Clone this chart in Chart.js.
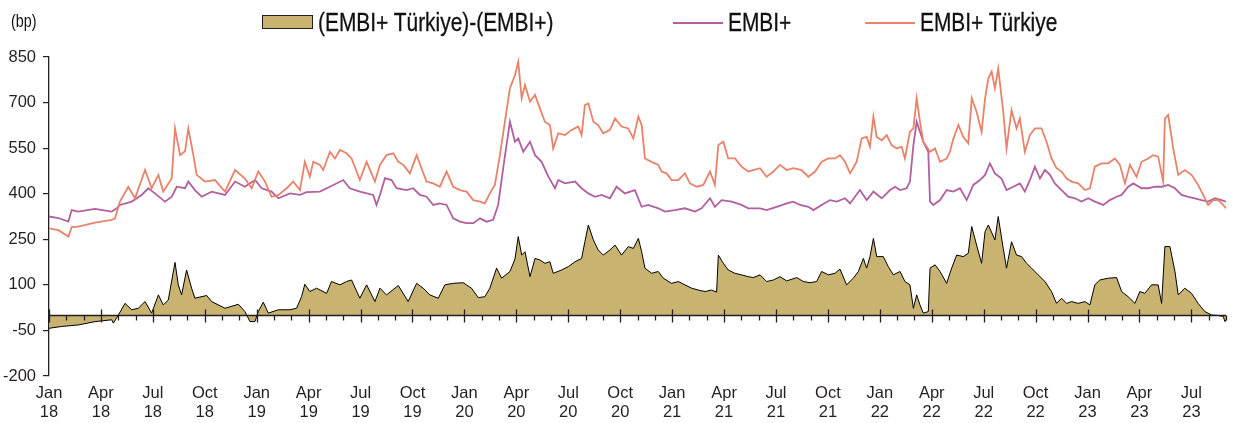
<!DOCTYPE html>
<html>
<head>
<meta charset="utf-8">
<script src="https://cdn.jsdelivr.net/npm/chart.js@4.4.1/dist/chart.umd.min.js"></script>
<style>
  body { margin: 0; background: #fff; }
  #wrap { position: relative; width: 1236px; height: 423px; font-family: 'Liberation Sans', Arial, sans-serif; color: #111; }
  #chart { position: absolute; left: 0; top: 0; }
  .lg { position: absolute; font-size: 25.5px; line-height: 25px; top: 10px; white-space: nowrap; transform: scaleX(0.82); transform-origin: 0 0; -webkit-text-stroke: 0.3px #111; }
  .sw { position: absolute; }
</style>
</head>
<body>
<div id="wrap">
  <canvas id="chart" width="1236" height="423"></canvas>
  <div class="lg" style="left:11px;top:13px;font-size:17.5px;line-height:17px;-webkit-text-stroke:0;">(bp)</div>
  <div class="sw" style="left:262px;top:15px;width:49px;height:12px;background:#c9b370;border:1.5px solid #231f20;"></div>
  <div class="lg" style="left:318px;">(EMBI+ Türkiye)-(EMBI+)</div>
  <div class="sw" style="left:673px;top:22px;width:50px;height:2px;background:#b35f9f;"></div>
  <div class="lg" style="left:728px;">EMBI+</div>
  <div class="sw" style="left:865px;top:22px;width:50px;height:2px;background:#e8836a;"></div>
  <div class="lg" style="left:920px;">EMBI+ Türkiye</div>
</div>
<script>
// x values are months counted from Jan 2018 (0 = Jan 18)
const turkiyeMonths = [0, 0.54, 1.12, 1.31, 1.69, 2.66, 3.62, 3.81, 4.1, 4.58, 4.97, 5.55, 5.93, 6.32, 6.6, 7.09, 7.28, 7.57, 7.86, 8.05, 8.34, 8.53, 9.01, 9.59, 10.17, 10.75, 11.32, 11.71, 12.09, 12.48, 12.86, 13.25,
  13.73, 14.11, 14.5, 14.78, 15.07, 15.27, 15.65, 15.84, 16.23, 16.52, 16.81, 17.19, 17.48, 17.96, 18.35, 18.83, 19.12, 19.5, 19.89, 20.18, 20.47, 20.85, 21.24, 21.52, 21.81, 22.2, 22.58, 22.97, 23.35, 23.74, 24.12, 24.51, 24.9, 25.18, 25.47, 25.76, 26.05, 26.34, 26.63, 26.92, 27.11,
  27.31, 27.5, 27.79, 28.08, 28.36, 28.65, 28.94, 29.13, 29.42, 29.81, 30.19, 30.58, 30.77, 30.96, 31.16, 31.45, 31.73, 32.02, 32.41, 32.7, 33.08, 33.47, 33.76, 34.05, 34.24, 34.43, 34.82, 35.2, 35.39, 35.68, 35.97, 36.36, 36.74, 37.03, 37.41, 37.8, 38.19, 38.47, 38.67, 38.96, 39.24, 39.63, 40.01, 40.4, 40.69,
  41.08, 41.46, 41.85, 42.23, 42.62, 43.0, 43.48, 43.87, 44.26, 44.64, 45.03, 45.41, 45.7, 45.99, 46.28, 46.66, 46.95, 47.24, 47.43, 47.63, 47.82, 48.11, 48.4, 48.68, 48.97, 49.26, 49.45, 49.74, 49.94, 50.13, 50.32, 50.51, 50.9, 51.19, 51.48, 51.86, 52.05, 52.25, 52.54, 52.82, 53.11, 53.31, 53.59, 53.88, 54.08, 54.27,
  54.46, 54.65, 54.84, 55.13, 55.32, 55.61, 55.9, 56.09, 56.38, 56.67, 56.96, 57.34, 57.63, 57.92, 58.21, 58.5, 58.79, 59.08, 59.46, 59.85, 60.14, 60.42, 60.81, 61.2, 61.58, 61.87, 62.16, 62.45, 62.83, 63.12, 63.51, 63.79, 64.08, 64.37, 64.47, 64.66, 64.95, 65.24, 65.62, 66.01, 66.39, 66.68, 66.97, 67.26, 67.55, 67.84, 68.0];
const turkiyeValues = [286, 280, 259, 290, 292, 305, 314, 318, 374, 423, 385, 478, 418, 462, 407, 450, 615, 527, 540, 615, 527, 462, 440, 445, 407, 478, 450, 418, 473, 440, 390, 395,
  418, 440, 412, 505, 456, 505, 495, 478, 538, 516, 544, 533, 516, 445, 505, 440, 495, 527, 533, 505, 495, 467, 527, 484, 440, 434, 423, 473, 423, 412, 407, 379, 374, 368, 401, 429, 527, 637, 747, 790, 834,
  714, 758, 703, 725, 681, 637, 626, 549, 599, 593, 610, 621, 593, 692, 697, 637, 626, 599, 610, 648, 621, 615, 582, 654, 626, 516, 505, 495, 473, 467, 445, 445, 467, 434, 423, 429, 473, 429, 560, 571, 516, 516, 489, 473, 478,
  484, 456, 473, 495, 478, 484, 478, 456, 473, 505, 516, 516, 527, 505, 467, 505, 582, 587, 555, 654, 587, 576, 593, 560, 549, 555, 516, 604, 615, 714, 637, 571, 538, 549, 505, 516, 538, 582, 626, 587, 566, 714, 670, 604, 714, 780,
  802, 747, 812, 670, 549, 675, 615, 648, 538, 593, 615, 615, 571, 516, 484, 473, 450, 440, 434, 412, 418, 489, 500, 500, 516, 495, 434, 495, 456, 505, 516, 527, 522, 440, 648, 659, 549, 462, 478, 462, 429, 396, 363, 379, 379, 363, 352];

const embiMonths = [0, 0.54, 1.12, 1.31, 1.69, 2.66, 3.62, 3.91, 4.1, 4.78, 5.35, 5.74, 6.12, 6.7, 7.09, 7.38, 7.86, 8.05, 8.43, 8.82, 9.4, 10.17, 10.75, 11.32, 11.9, 12.29, 12.86, 13.25,
  13.92, 14.5, 14.88, 15.65, 16.23, 17.0, 17.38, 17.96, 18.73, 18.92, 19.12, 19.41, 19.79, 20.08, 20.66, 21.04, 21.43, 21.81, 22.2, 22.58, 22.97, 23.35, 23.74, 24.12, 24.51, 24.9, 25.28, 25.66, 25.95, 26.24, 26.63,
  26.92, 27.11, 27.4, 27.79, 28.08, 28.46, 28.85, 29.23, 29.42, 29.81, 30.39, 30.77, 31.16, 31.54, 31.93, 32.41, 32.79, 33.27, 33.85, 34.24, 34.62, 35.2, 35.59, 36.16, 36.74, 37.32, 37.7, 38.19, 38.47, 38.86, 39.44, 40.01, 40.4,
  41.08, 41.46, 42.04, 42.62, 43.0, 43.39, 43.87, 44.16, 44.64, 45.12, 45.51, 45.99, 46.28, 46.85, 47.24, 47.63, 48.11, 48.59, 48.88, 49.17, 49.55, 49.74, 49.94, 50.13, 50.32, 50.51, 50.8, 50.9, 51.09, 51.48, 51.86, 52.25, 52.63, 53.02, 53.4, 53.79, 54.08,
  54.36, 54.65, 55.03, 55.32, 55.71, 56.09, 56.38, 56.67, 56.96, 57.25, 57.54, 57.83, 58.11, 58.5, 58.88, 59.27, 59.65, 60.04, 60.42, 60.91, 61.29, 61.68, 61.97, 62.35, 62.64, 63.12, 63.51, 63.89, 64.28, 64.66, 65.05, 65.43, 65.82, 66.2, 66.59, 66.97, 67.36, 67.74, 68.0];
const embiValues = [325, 320, 308, 346, 341, 350, 341, 352, 363, 374, 396, 418, 401, 374, 390, 423, 418, 440, 412, 390, 407, 396, 440, 423, 445, 418, 407, 385,
  401, 396, 405, 407, 423, 445, 418, 407, 396, 363, 396, 451, 445, 418, 412, 418, 396, 390, 363, 368, 363, 319, 308, 303, 303, 319, 308, 314, 363, 484, 637,
  571, 582, 538, 571, 527, 505, 456, 418, 445, 434, 440, 418, 401, 390, 396, 385, 423, 401, 412, 357, 363, 352, 341, 346, 352, 341, 352, 385, 357, 379, 374, 363, 352,
  352, 346, 357, 368, 374, 363, 357, 346, 363, 379, 374, 385, 368, 412, 379, 407, 385, 412, 423, 412, 418, 440, 560, 637, 604, 571, 538, 374, 363, 379, 412, 407, 418, 379, 429, 445, 462,
  500, 467, 450, 412, 423, 434, 407, 445, 489, 450, 478, 462, 434, 412, 390, 385, 374, 385, 374, 363, 379, 390, 396, 423, 434, 418, 418, 423, 423, 429, 418, 396, 390, 385, 379, 374, 385, 379, 374];

const spreadMonths = [0, 0.73, 1.69, 2.66, 3.62, 3.72, 4.0, 4.39, 4.78, 5.16, 5.55, 5.93, 6.32, 6.6, 6.89, 7.28, 7.47, 7.66, 7.95, 8.24, 8.43, 9.11, 9.4, 10.17, 10.94, 11.32, 11.61, 11.9, 12.09, 12.38, 12.67, 13.25,
  13.92, 14.3, 14.59, 14.78, 15.07, 15.46, 16.04, 16.32, 16.81, 17.19, 17.48, 17.96, 18.35, 18.83, 19.12, 19.5, 20.18, 20.75, 21.24, 21.62, 22.0, 22.49, 22.87, 23.35, 23.93, 24.41, 24.8, 25.18, 25.47, 25.86, 26.15, 26.63,
  26.92, 27.11, 27.31, 27.5, 27.79, 28.08, 28.36, 28.65, 28.94, 29.13, 29.62, 30.0, 30.39, 30.77, 30.96, 31.16, 31.45, 31.73, 32.02, 32.41, 32.7, 33.08, 33.47, 33.76, 34.05, 34.24, 34.43, 34.82, 35.2, 35.49, 35.97, 36.36, 36.74, 37.13, 37.51, 37.9, 38.28, 38.57, 38.67, 38.96, 39.24, 39.63, 40.01, 40.4,
  40.69, 41.08, 41.46, 41.85, 42.23, 42.62, 43.2, 43.58, 43.97, 44.35, 44.64, 45.03, 45.41, 45.7, 46.08, 46.47, 46.76, 47.05, 47.24, 47.43, 47.63, 47.82, 48.2, 48.49, 48.78, 49.17, 49.45, 49.74, 49.94, 50.13, 50.32, 50.51, 50.8, 50.9, 51.19, 51.48, 51.86, 52.15, 52.44, 52.82, 53.11, 53.31, 53.59, 53.88, 54.08, 54.27,
  54.65, 54.84, 55.13, 55.32, 55.61, 55.9, 56.19, 56.48, 56.77, 57.15, 57.54, 57.92, 58.21, 58.5, 58.79, 59.08, 59.46, 59.85, 60.14, 60.42, 60.71, 61.2, 61.68, 61.97, 62.35, 62.74, 63.02, 63.31, 63.7, 64.08, 64.28, 64.47, 64.76, 65.05, 65.24, 65.62, 66.01, 66.39, 66.78, 67.16, 67.55, 67.84, 67.94, 68.0];
const spreadValues = [-43, -37, -32, -21, -15, -26, 0, 39, 18, 23, 45, 7, 67, 34, 50, 174, 100, 67, 149, 89, 56, 65, 45, 23, 36, 12, -21, -21, 12, 43, 7, 18,
  18, 23, 61, 102, 78, 89, 72, 111, 100, 111, 116, 56, 100, 45, 89, 67, 98, 45, 105, 89, 67, 56, 100, 105, 107, 89, 58, 61, 89, 155, 122, 144,
  185, 259, 198, 209, 127, 187, 182, 171, 176, 138, 149, 160, 176, 187, 242, 297, 248, 215, 198, 215, 231, 198, 226, 220, 253, 209, 155, 138, 144, 122, 105, 111, 100, 89, 83, 78, 83, 76, 198, 171, 149, 138, 133, 127,
  124, 133, 111, 116, 127, 113, 124, 111, 107, 111, 144, 133, 138, 152, 100, 122, 144, 187, 155, 193, 253, 193, 193, 160, 133, 144, 111, 100, 23, 67, 34, 7, 12, 155, 166, 144, 105, 155, 198, 193, 204, 292, 231, 171, 275, 297,
  248, 325, 220, 155, 242, 198, 193, 171, 155, 133, 111, 78, 39, 56, 39, 45, 39, 45, 34, 100, 116, 122, 124, 78, 61, 39, 78, 72, 100, 100, 39, 226, 226, 144, 67, 89, 72, 39, 12, 1, -1, -4, -21, -15];

const yTicks = [-200, -50, 100, 250, 400, 550, 700, 850];
const monthNames = ['Jan', 'Apr', 'Jul', 'Oct'];
const yearLabels = ['18', '19', '20', '21', '22', '23'];

const toPoints = (xs, ys) => xs.map((x, i) => ({ x: x, y: ys[i] }));
const FONT = "'Liberation Sans', Arial, sans-serif";
const INK = '#231f20';

// zero line with monthly tick marks (longer, crossing ticks at quarters)
const zeroAxis = {
    id: 'zeroAxis',
    afterDatasetsDraw(chart) {
        const xs = chart.scales.x, ys = chart.scales.y;
        const y0 = Math.round(ys.getPixelForValue(0)) + 0.5;
        const ctx = chart.ctx;
        ctx.save();
        ctx.strokeStyle = INK;
        ctx.lineWidth = 1.3;
        ctx.beginPath();
        ctx.moveTo(xs.left, y0);
        ctx.lineTo(xs.right, y0);
        for (let m = 0; m <= 68; m++) {
            const px = Math.round(xs.getPixelForValue(m)) + 0.5;
            if (m % 3 === 0) {
                ctx.moveTo(px, y0 - 6);
                ctx.lineTo(px, y0 + 7);
            } else {
                ctx.moveTo(px, y0);
                ctx.lineTo(px, y0 + 5);
            }
        }
        ctx.stroke();
        ctx.restore();
    }
};

const ctx = document.getElementById('chart').getContext('2d');
const spreadChart = new Chart(ctx, {
    type: 'line',
    data: {
        datasets: [{
            label: '(EMBI+ Türkiye)-(EMBI+)',
            data: toPoints(spreadMonths, spreadValues),
            backgroundColor: '#c9b370',
            borderColor: '#000',
            borderWidth: 1,
            fill: 'origin',
            order: 3
        }, {
            label: 'EMBI+',
            data: toPoints(embiMonths, embiValues),
            borderColor: '#b35f9f',
            borderWidth: 1.8,
            fill: false,
            order: 2
        }, {
            label: 'EMBI+ Türkiye',
            data: toPoints(turkiyeMonths, turkiyeValues),
            borderColor: '#e8836a',
            borderWidth: 1.8,
            fill: false,
            order: 1
        }]
    },
    options: {
        responsive: false,
        animation: false,
        devicePixelRatio: 1,
        layout: { padding: { top: 57, right: 10, left: 0, bottom: 0 } },
        elements: { point: { radius: 0 }, line: { tension: 0 } },
        scales: {
            x: {
                type: 'linear',
                min: 0,
                max: 68,
                grid: { display: false, drawTicks: false },
                border: { display: false },
                afterBuildTicks: (scale) => {
                    const t = [];
                    for (let m = 0; m <= 66; m += 3) t.push({ value: m });
                    scale.ticks = t;
                },
                afterFit: (scale) => { scale.height = 47; },
                ticks: {
                    autoSkip: false,
                    maxRotation: 0,
                    padding: 8,
                    color: INK,
                    font: { family: FONT, size: 16.5, lineHeight: 1.15 },
                    callback: (v) => [monthNames[(v / 3) % 4], yearLabels[Math.floor(v / 12)]]
                }
            },
            y: {
                min: -200,
                max: 850,
                grid: { drawOnChartArea: false, drawTicks: true, tickLength: 6, color: INK, lineWidth: 1.2 },
                border: { display: true, color: INK, width: 1.3 },
                afterBuildTicks: (scale) => { scale.ticks = yTicks.map(v => ({ value: v })); },
                afterFit: (scale) => { scale.width = 49; },
                ticks: {
                    padding: 7,
                    color: INK,
                    font: { family: FONT, size: 16.5 }
                }
            }
        },
        plugins: {
            legend: { display: false },
            tooltip: { enabled: false }
        }
    },
    plugins: [zeroAxis]
});
</script>
</body>
</html>
